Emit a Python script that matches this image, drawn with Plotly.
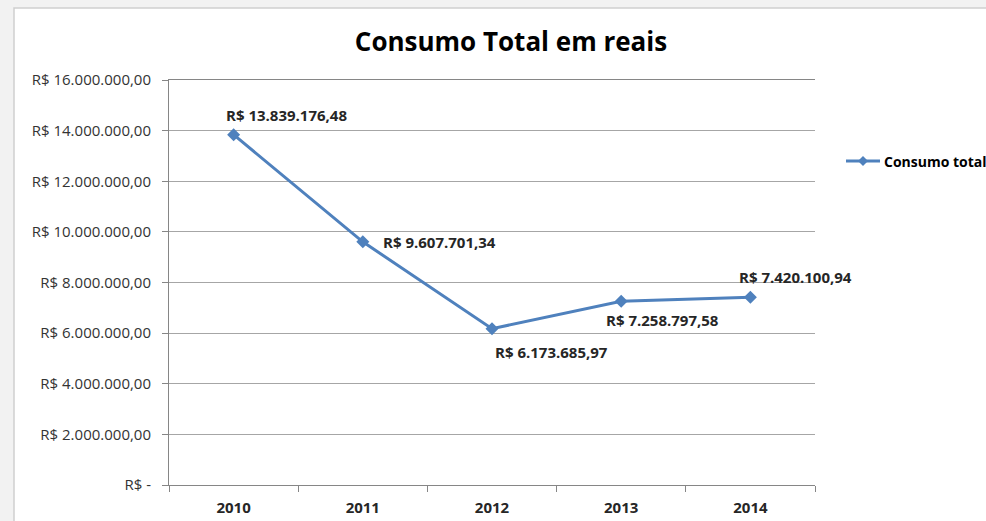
import plotly.graph_objects as go

years = ["2010", "2011", "2012", "2013", "2014"]
values = [13839176.48, 9607701.34, 6173685.97, 7258797.58, 7420100.94]
labels = ["R$ 13.839.176,48", "R$ 9.607.701,34", "R$ 6.173.685,97", "R$ 7.258.797,58", "R$ 7.420.100,94"]
series_name = "Consumo total"
y_tickvals = [0, 2e6, 4e6, 6e6, 8e6, 10e6, 12e6, 14e6, 16e6]
y_ticktext = ["R$ -", "R$ 2.000.000,00", "R$ 4.000.000,00", "R$ 6.000.000,00", "R$ 8.000.000,00",
              "R$ 10.000.000,00", "R$ 12.000.000,00", "R$ 14.000.000,00", "R$ 16.000.000,00"]
# label offsets in pixels (dx from point to label left edge, dy down positive)
label_dx = [-10, 18, 1, -17, -13]
label_dy = [-20, 0, 23, 19, -20]

FONT = "Open Sans"
BLUE = "#4f81bd"
GRID = "#a6a6a6"
AXC = "#868686"

W, H = 986, 521
L, R, T, B = 169, 171, 80, 36
PW, PH = W - L - R, H - T - B


def px(xp):
    return (xp - L) / PW


def py(yp):
    return (H - B - yp) / PH


fig = go.Figure()
fig.add_trace(go.Scatter(
    x=list(range(len(years))), y=values, mode="lines+markers", name=series_name,
    line=dict(color=BLUE, width=3),
    marker=dict(symbol="diamond", size=10, color=BLUE), showlegend=False,
))

for i, (v, t, dx, dy) in enumerate(zip(values, labels, label_dx, label_dy)):
    fig.add_annotation(x=i, y=v, xref="x", yref="y", text="<b>" + t + "</b>", showarrow=True,
                       arrowcolor="rgba(0,0,0,0)", arrowwidth=0.1, ax=dx, ay=dy, xanchor="left",
                       yanchor="middle", font=dict(family=FONT, size=15, color="#262626"))

# outer chart frame
fig.add_shape(type="rect", xref="paper", yref="paper",
              x0=px(14), x1=px(1000), y0=py(540), y1=py(8),
              fillcolor="white", line=dict(color="#cfcfcf", width=1.5), layer="below")

# manual legend
ly = 161
fig.add_shape(type="line", xref="paper", yref="paper", x0=px(846), x1=px(880), y0=py(ly), y1=py(ly),
              line=dict(color=BLUE, width=3))
fig.add_shape(type="path", xref="paper", yref="paper",
              path="M {a},{b} L {c},{d} L {a},{e} L {f},{d} Z".format(
                  a=px(863), b=py(ly - 5), c=px(868), d=py(ly), e=py(ly + 5), f=px(858)),
              fillcolor=BLUE, line=dict(color=BLUE, width=0))
fig.add_annotation(xref="paper", yref="paper", x=px(882), y=py(ly), text="<b>" + series_name + "</b>",
                   showarrow=False, xanchor="left", yanchor="middle",
                   font=dict(family=FONT, size=14, color="black"))

fig.update_layout(
    width=W, height=H,
    margin=dict(l=L, r=R, t=T, b=B),
    paper_bgcolor="#f2f2f2", plot_bgcolor="white",
    title=dict(text="<b>Consumo Total em reais</b>", x=511/986, xanchor="center",
               y=1 - 42/521, yanchor="middle", automargin=False,
               font=dict(family=FONT, size=26, color="black")),
    font=dict(family=FONT, size=13, color="#262626"),
    showlegend=False,
    xaxis=dict(range=[-0.5, 4.5], showgrid=False, automargin=False,
               showline=True, linecolor=AXC, linewidth=1, mirror=True,
               ticks="outside", ticklen=6, tickcolor=AXC,
               tickvals=[i - 0.5 for i in range(len(years) + 1)],
               ticktext=[""] * (len(years) + 1),
               zeroline=False),
    xaxis2=dict(overlaying="x", range=[-0.5, 4.5], showgrid=False, showline=False, automargin=False,
                ticks="", side="bottom", ticklabelstandoff=12, zeroline=False,
                tickvals=list(range(len(years))), ticktext=["<b>" + y + "</b>" for y in years],
                tickfont=dict(family=FONT, size=15, color="#262626")),
    yaxis=dict(range=[0, 16e6], tickvals=y_tickvals, ticktext=y_ticktext, automargin=False,
               showgrid=True, gridcolor=GRID, gridwidth=1, zeroline=False,
               showline=True, linecolor=AXC, linewidth=1,
               ticks="outside", ticklen=6, tickcolor=AXC, ticklabelstandoff=8,
               tickfont=dict(family=FONT, size=15, color="#333333")),
)
# invisible trace to activate xaxis2 for centered category labels
fig.add_trace(go.Scatter(x=[0], y=[0], xaxis="x2", mode="markers",
                         marker=dict(opacity=0), showlegend=False, hoverinfo="skip"))

fig.write_html("out.html")
